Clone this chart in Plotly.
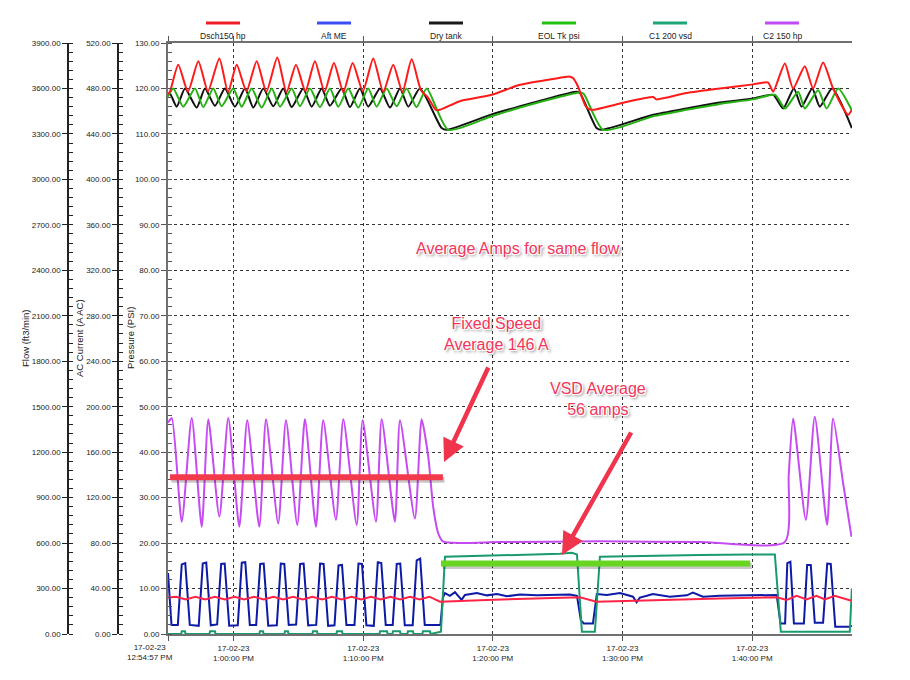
import pandas as pd
import plotly.graph_objects as go

START = pd.Timestamp("2023-02-17 12:54:57")
END_MIN = 52.75

# ---------------- data (minutes after 12:54:57 PM, values) ----------------
# Dsch150 hp  (Pressure, PSI)
dsch_t = [0.0, 0.15, 0.79, 1.54, 2.34, 3.08, 3.96, 4.63, 5.30, 6.05, 6.84, 7.59, 8.43, 9.14,
          9.87, 10.60, 11.33, 12.07, 12.80, 13.52, 14.24, 15.03, 15.83, 16.60, 17.37, 18.08,
          18.79, 19.51, 20.05, 20.66, 20.97, 22.51, 24.96, 27.14, 29.71, 31.00, 31.23, 31.61,
          32.23, 32.67, 34.86, 37.42, 37.68, 39.99, 42.56, 45.13, 46.28, 46.67, 47.57, 48.21,
          49.11, 49.75, 50.52, 51.29, 52.45, 52.74]
dsch_v = [118.8, 119.3, 125.2, 119.3, 126.0, 119.4, 126.6, 119.2, 125.2, 119.4, 126.0, 119.3,
          126.8, 119.2, 125.2, 119.4, 126.0, 119.3, 125.6, 119.2, 125.6, 119.4, 126.6, 119.3,
          125.2, 119.2, 126.4, 119.6, 118.0, 115.3, 115.3, 117.2, 118.6, 120.8, 122.1, 122.6,
          122.3, 120.5, 116.0, 115.3, 116.7, 118.1, 117.6, 119.0, 120.0, 120.9, 121.3, 119.3,
          125.5, 120.0, 124.9, 120.0, 125.7, 120.0, 114.2, 115.3]

# Dry tank (Pressure, PSI)
dry_t = [0.0, 0.15, 0.67, 1.31, 2.21, 2.85, 3.62, 4.39, 5.16, 5.94, 6.58, 7.35, 8.12, 8.89,
         9.54, 10.43, 11.08, 11.85, 12.49, 13.39, 14.03, 14.80, 15.44, 16.35, 17.12, 17.89,
         18.53, 19.43, 21.10, 21.49, 24.96, 27.14, 29.71, 31.51, 31.77, 33.05, 33.44, 37.42,
         39.99, 42.56, 45.13, 46.67, 47.44, 48.27, 48.86, 49.68, 50.27, 51.22, 52.74]
dry_v = [118.6, 118.9, 116.0, 120.0, 115.8, 120.0, 116.2, 120.0, 116.0, 120.0, 115.8, 120.0,
         116.1, 120.0, 115.9, 120.0, 116.0, 120.0, 116.2, 120.0, 115.9, 120.0, 116.0, 120.0,
         115.8, 120.0, 116.0, 120.0, 111.3, 110.9, 114.3, 116.1, 118.1, 119.3, 119.0, 111.3,
         110.9, 114.2, 115.6, 116.9, 117.8, 118.6, 115.6, 120.0, 116.0, 120.0, 116.0, 120.0,
         111.3]

# EOL Tk psi (Pressure, PSI)
eol_t = [0.0, 0.41, 1.18, 2.08, 2.72, 3.49, 4.14, 5.03, 5.68, 6.45, 7.22, 8.00, 8.64, 9.54,
         10.17, 10.95, 11.72, 12.49, 13.13, 13.90, 14.67, 15.44, 16.09, 16.86, 17.63, 18.40,
         19.17, 19.95, 21.61, 24.96, 27.14, 29.71, 31.77, 32.07, 33.56, 37.42, 39.99, 42.56,
         45.13, 46.82, 47.59, 48.60, 49.11, 50.14, 50.79, 51.68, 52.74]
eol_v = [118.2, 120.0, 116.0, 120.0, 115.9, 120.0, 116.1, 120.0, 116.0, 120.0, 115.8, 120.0,
         116.0, 120.0, 116.1, 120.0, 115.9, 120.0, 116.0, 120.0, 115.8, 120.0, 116.0, 120.0,
         116.1, 120.0, 115.9, 120.0, 110.9, 113.9, 115.8, 117.8, 119.1, 118.8, 110.9, 113.9,
         115.3, 116.6, 117.6, 118.6, 115.6, 119.3, 115.6, 119.6, 115.6, 120.0, 115.2]

# Aft ME (Pressure, PSI)
aft_t = [0.0, 0.27,
         0.76, 1.06, 1.33, 1.68, 2.37, 2.68, 2.95, 3.30, 3.79, 4.10, 4.37, 4.72,
         5.38, 5.69, 5.96, 6.31, 6.80, 7.11, 7.38, 7.73, 8.39, 8.70, 8.97, 9.31,
         9.88, 10.19, 10.46, 10.81, 11.43, 11.73, 12.00, 12.35, 12.84, 13.15, 13.42, 13.76,
         14.38, 14.69, 14.96, 15.30, 15.87, 16.18, 16.45, 16.79, 17.33, 17.64, 17.91, 18.26,
         18.87, 19.18, 19.45, 19.80,
         21.01, 21.20, 21.36, 21.74, 22.13, 22.64, 22.90, 23.82, 24.59, 25.37, 26.14, 27.14,
         28.45, 29.68, 30.99, 31.54, 31.84, 32.07, 32.77, 33.07, 33.84, 34.86, 35.86, 36.14,
         36.39, 36.93, 37.39, 38.70, 40.01, 40.48, 41.25, 42.56, 45.10, 46.67, 46.94,
         47.24, 47.59, 47.76, 48.00, 48.27, 49.04, 49.29, 49.57, 49.88, 50.52, 50.84, 51.11,
         51.46, 52.58, 52.74]
aft_v = [13.4, 2.0,
         2.0, 15.3, 15.6, 2.0, 1.8, 15.5, 15.7, 1.9, 2.1, 15.4, 15.5, 1.8,
         1.9, 15.7, 15.8, 2.0, 2.0, 15.4, 15.5, 1.8, 1.9, 15.5, 15.4, 2.0,
         2.1, 15.4, 15.5, 1.9, 2.0, 15.5, 15.4, 1.8, 1.9, 15.1, 15.2, 2.0,
         2.0, 15.5, 15.4, 1.9, 1.8, 15.8, 15.6, 2.0, 2.0, 15.4, 15.5, 1.9,
         1.9, 16.2, 16.6, 2.0,
         2.0, 8.0, 9.0, 8.4, 9.2, 7.5, 8.6, 9.0, 8.5, 8.8, 8.3, 8.7,
         8.5, 8.6, 8.7, 8.4, 3.0, 2.3, 2.3, 8.8, 8.6, 9.0, 8.2, 7.0,
         8.0, 8.4, 8.8, 8.2, 8.5, 9.1, 8.2, 8.4, 8.5, 8.7, 8.6,
         2.3, 2.3, 15.6, 15.9, 2.3, 2.3, 15.2, 15.2, 2.5, 2.5, 15.5, 15.4,
         1.6, 1.6, 1.8]

# C1 200 vsd (AC current, A)
c1_t = [0.0,
        1.02, 1.06, 1.31, 1.35, 3.20, 3.24, 3.62, 3.66, 7.05, 7.09, 7.33, 7.37,
        8.98, 9.02, 9.25, 9.29, 11.14, 11.18, 11.49, 11.53, 12.99, 13.03, 13.42, 13.46,
        16.31, 16.35, 16.89, 16.93, 17.31, 17.35, 17.89, 17.93, 18.46, 18.50, 18.89, 18.93,
        19.62, 19.66, 20.20, 20.24,
        21.05, 21.36, 24.83, 27.91, 30.22, 31.15, 31.54, 31.92, 32.92, 33.31, 37.16, 41.02,
        44.87, 46.80, 47.26, 52.58, 52.74]
c1_v = [0,
        0, 2.4, 2.4, 0, 0, 2.4, 2.4, 0, 0, 2.4, 2.4, 0,
        0, 2.4, 2.4, 0, 0, 2.4, 2.4, 0, 0, 2.4, 2.4, 0,
        0, 2.4, 2.4, 0, 0, 2.4, 2.4, 0, 0, 2.4, 2.4, 0,
        0, 2.4, 2.4, 0,
        2, 68, 69, 70, 70.5, 71.5, 70, 2, 2, 68, 69, 69.5,
        70, 70, 2, 2, 40]

# C2 150 hp (AC current, A)
c2_t = [0.0, 0.29, 1.06, 1.83, 2.60, 3.11, 3.96, 4.65, 5.50, 6.11, 7.04, 7.56, 8.50, 9.10,
        9.97, 10.56, 11.41, 11.97, 12.95, 13.52, 14.55, 15.01, 16.04, 16.48, 17.50, 17.89,
        19.04, 19.56, 20.07, 20.45, 20.84, 21.23, 25.60, 33.31, 41.02, 47.57, 47.87, 48.21,
        49.19, 49.88, 50.83, 51.29, 52.07, 52.71]
c2_v = [186, 190, 98.8, 190, 94.4, 189, 103.2, 190, 94.4, 188, 94.4, 189, 97.2, 188,
        96, 189, 94.4, 188, 100.4, 189, 96, 188, 98.8, 189, 98.8, 188,
        101.6, 189, 156, 112, 88.6, 81.2, 81, 81.5, 81, 81, 140, 189.6,
        100.4, 191.2, 96, 189.6, 132.4, 85.6]

# Flow (ft3/min) - lower red trace
flow_t = [0.0, 0.62, 1.36, 2.12, 2.87, 3.62, 4.37, 5.13, 5.87, 6.63, 7.38, 8.13, 8.88, 9.64,
          10.39, 11.14, 11.89, 12.64, 13.39, 14.15, 14.90, 15.65, 16.40, 17.15, 17.90, 18.66,
          19.41, 20.16, 20.97, 21.51, 24.57, 29.71, 31.77, 33.05, 37.42, 42.56, 46.94, 47.71,
          48.48, 49.24, 50.01, 50.65, 51.42, 52.71]
flow_v = [240, 246, 228, 246, 228, 246, 228, 246, 228, 246, 228, 246, 228, 246,
          228, 246, 228, 246, 228, 246, 228, 246, 228, 246, 228, 246,
          228, 246, 213, 214, 225, 235, 243, 213, 225, 235, 243, 225,
          252, 228, 252, 228, 252, 219]

tick_minutes = [0.0, 5.05, 15.05, 25.05, 35.05, 45.05]
tick_text = ["", "17-02-23<br>1:00:00 PM", "17-02-23<br>1:10:00 PM", "17-02-23<br>1:20:00 PM",
             "17-02-23<br>1:30:00 PM", "17-02-23<br>1:40:00 PM"]
first_tick_text = "17-02-23<br>12:54:57 PM"

axis_titles = ["Flow (ft3/min)", "AC Current (A AC)", "Pressure (PSI)"]

legend_names = ["Dsch150 hp", "Aft ME", "Dry tank", "EOL Tk psi", "C1 200 vsd", "C2 150 hp"]
legend_colors = ["#ee1c25", "#3a4ef2", "#1a1a1a", "#22c010", "#1fa57a", "#c04bf0"]

for a, b in [(dsch_t, dsch_v), (dry_t, dry_v), (eol_t, eol_v), (aft_t, aft_v),
             (c1_t, c1_v), (c2_t, c2_v), (flow_t, flow_v)]:
    assert len(a) == len(b), (len(a), len(b))


def at(mins):
    return START + pd.to_timedelta(mins, unit="min")


W, H = 910, 680
TOP, BOT = 43, 634


def px(x):
    return x / W


def py(y):
    return (BOT - y) / (BOT - TOP)


SANS = "Liberation Sans, Arial, sans-serif"

fig = go.Figure()


def add(t, v, color, name, axis, shape="linear", width=2):
    line = dict(color=color, width=width, shape=shape)
    if shape == "spline":
        line["smoothing"] = 0.6
    fig.add_trace(go.Scatter(x=at(t), y=v, mode="lines", name=name, line=line,
                             yaxis=axis, showlegend=False, hoverinfo="skip"))


add(c2_t, c2_v, "#c64cf2", "C2 150 hp", "y2", "spline")
add(c1_t, c1_v, "#1a9a6c", "C1 200 vsd", "y2")
add(flow_t, flow_v, "#ff2447", "Flow", "y3")
add(aft_t, aft_v, "#0d1aa6", "Aft ME", "y")
add(dry_t, dry_v, "#111111", "Dry tank", "y", "spline")
add(eol_t, eol_v, "#25b012", "EOL Tk psi", "y", "spline")
add(dsch_t, dsch_v, "#ff1a1a", "Dsch150 hp", "y", "spline")

tick_font = dict(family=SANS, size=8, color="#222")
title_font = dict(family=SANS, size=9.5, color="#222")

fig.update_layout(
    width=W, height=H, template="none",
    margin=dict(l=0, r=0, t=TOP, b=H - BOT, pad=0),
    paper_bgcolor="white", plot_bgcolor="white", showlegend=False,
    xaxis=dict(
        domain=[px(168), px(852)], type="date",
        range=[at(0.0), at(END_MIN)],
        tickvals=at(tick_minutes), ticktext=tick_text, tickfont=tick_font,
        ticks="outside", ticklen=5, tickcolor="#555",
        showline=True, linecolor="#707070", linewidth=2, mirror="ticks",
        showgrid=True, gridcolor="#333", griddash="dot", gridwidth=1,
        zeroline=False, automargin=False,
    ),
    yaxis=dict(
        range=[0, 130], dtick=10, tick0=0, tickformat=".2f", tickfont=tick_font,
        ticks="outside", ticklen=5, tickcolor="#555",
        minor=dict(ticks="inside", ticklen=4, dtick=2, tickcolor="#555", showgrid=False),
        showline=True, linecolor="#707070", linewidth=2,
        showgrid=True, gridcolor="#333", griddash="dot", gridwidth=1,
        zeroline=False, automargin=False, anchor="x",
    ),
    yaxis2=dict(
        range=[0, 520], dtick=40, tick0=0, tickformat=".2f", tickfont=tick_font,
        overlaying="y", anchor="free", position=px(118), side="left",
        ticks="outside", ticklen=5, tickcolor="#222",
        minor=dict(ticks="inside", ticklen=4, dtick=8, tickcolor="#222", showgrid=False),
        showline=True, linecolor="#222", linewidth=1.5,
        showgrid=False, zeroline=False, automargin=False,
    ),
    yaxis3=dict(
        range=[0, 3900], dtick=300, tick0=0, tickformat=".2f", tickfont=tick_font,
        overlaying="y", anchor="free", position=px(68), side="left",
        ticks="outside", ticklen=5, tickcolor="#222",
        minor=dict(ticks="inside", ticklen=4, dtick=60, tickcolor="#222", showgrid=False),
        showline=True, linecolor="#222", linewidth=1.5,
        showgrid=False, zeroline=False, automargin=False,
    ),
)

shapes = []
annotations = []

# axis titles (rotated text beside each axis)
for title, cx in zip(axis_titles, [25, 79, 130]):
    annotations.append(dict(text=title, xref="paper", yref="paper", x=px(cx), y=py(338),
                            textangle=-90, showarrow=False, xanchor="center", yanchor="middle",
                            font=title_font))

# custom legend (line above text)
centers = [223, 334, 446, 559, 670, 782]
for name, color, cx in zip(legend_names, legend_colors, centers):
    shapes.append(dict(type="line", xref="paper", yref="paper",
                       x0=px(cx - 17), x1=px(cx + 17), y0=py(23), y1=py(23),
                       line=dict(color=color, width=3)))
    annotations.append(dict(text=name, xref="paper", yref="paper", x=px(cx), y=py(36),
                            showarrow=False, xanchor="center", yanchor="middle",
                            font=dict(family=SANS, size=8.5, color="#222")))

# first x tick label (drawn left of the corner as in the original)
annotations.append(dict(text=first_tick_text, xref="paper", yref="paper", x=px(150), y=py(641),
                        showarrow=False, xanchor="center", yanchor="top",
                        font=tick_font))

# average highlight bars
fixed_avg_a = 138
vsd_avg_a = 62
shadow = "rgba(0,0,0,0.22)"
for (t0, t1, val, col) in [(0.15, 21.2, fixed_avg_a, "#f23a4b"), (21.05, 44.9, vsd_avg_a, "#68d620")]:
    shapes.append(dict(type="line", xref="x", yref="y2", x0=at(t0 + 0.12), x1=at(t1 + 0.12),
                       y0=val - 2.2, y1=val - 2.2, line=dict(color=shadow, width=6), layer="above"))
    shapes.append(dict(type="line", xref="x", yref="y2", x0=at(t0), x1=at(t1),
                       y0=val, y1=val, line=dict(color=col, width=6), layer="above"))

note_color = "#f2355b"
note_shadow = ("1px 1px 0px #fff, -1px -1px 0px #fff, 1px -1px 0px #fff, -1px 1px 0px #fff, "
               "2px 2px 3px rgba(0,0,0,0.55)")
note_font = dict(family=SANS, size=16, color=note_color, shadow=note_shadow)

annotations.append(dict(text="Average Amps for same flow", xref="paper", yref="paper",
                        x=px(622), y=py(238), showarrow=False, font=note_font))
annotations.append(dict(text="Fixed Speed<br>Average 146 A", xref="paper", yref="paper",
                        x=px(497), y=py(334), showarrow=False, font=note_font))
annotations.append(dict(text="VSD Average<br>56 amps", xref="paper", yref="paper",
                        x=px(648), y=py(399), showarrow=False, font=note_font))

# arrows
for tip, tail in [((444, 462), (489, 366)), ((562, 555), (632, 431))]:
    annotations.append(dict(text="", xref="paper", yref="paper", x=px(tip[0]), y=py(tip[1]),
                            ax=tail[0] - tip[0], ay=tail[1] - tip[1], axref="pixel", ayref="pixel",
                            showarrow=True, arrowhead=2, arrowsize=1, arrowwidth=4.5,
                            arrowcolor="#f0344c", standoff=0))

fig.update_layout(shapes=shapes, annotations=annotations)

fig.write_html("out.html")
